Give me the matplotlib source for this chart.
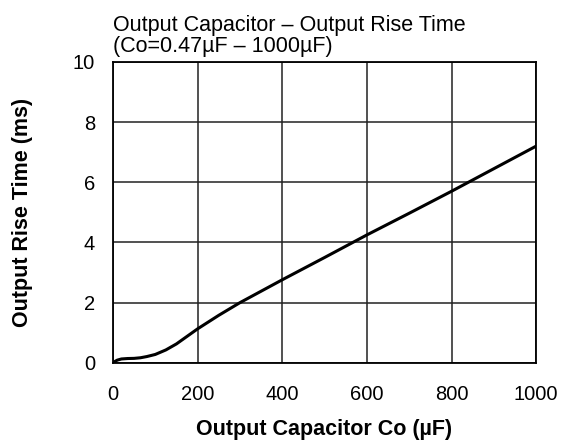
import numpy as np
import matplotlib.pyplot as plt

plt.rcParams['font.family'] = ['Liberation Sans', 'DejaVu Sans']

# output capacitor (uF) vs output rise time (ms)
cap = [0, 5, 10, 20, 35, 50, 65, 80, 100, 125, 150, 175, 200, 250, 300,
       400, 500, 600, 700, 800, 900, 1000]
rise = [0, 0.05, 0.09, 0.13, 0.145, 0.15, 0.17, 0.21, 0.28, 0.43, 0.63, 0.88,
        1.13, 1.58, 2.0, 2.76, 3.5, 4.25, 4.97, 5.7, 6.45, 7.2]

xticks = [0, 200, 400, 600, 800, 1000]
yticks = [0, 2, 4, 6, 8, 10]

fig = plt.figure(figsize=(5.62, 4.48), dpi=100)
ax = fig.add_axes([0.201, 0.19, 0.753, 0.672])

ax.plot(cap, rise, color='black', lw=2.2, solid_joinstyle='round')
ax.set_xlim(0, 1000)
ax.set_ylim(0, 10)
ax.set_xticks(xticks)
ax.set_yticks(yticks)
ax.grid(True, color='#222222', lw=1.1)
ax.tick_params(length=0, labelsize=14.5)
ax.tick_params(axis='x', pad=16)
ax.tick_params(axis='y', pad=13)
for s in ax.spines.values():
    s.set_linewidth(1.3)

ax.set_xlabel('Output Capacitor Co (µF)', fontsize=15.5, fontweight='bold')
ax.xaxis.set_label_coords(0.5, -0.186)
ax.set_ylabel('Output Rise Time (ms)', fontsize=15.5, fontweight='bold')
ax.yaxis.set_label_coords(-0.19, 0.5)
ax.set_title('Output Capacitor – Output Rise Time\n(Co=0.47µF – 1000µF)',
             loc='left', fontsize=15.5, linespacing=1.0, pad=7, x=0.0)

fig.savefig('out.png', dpi=100)
